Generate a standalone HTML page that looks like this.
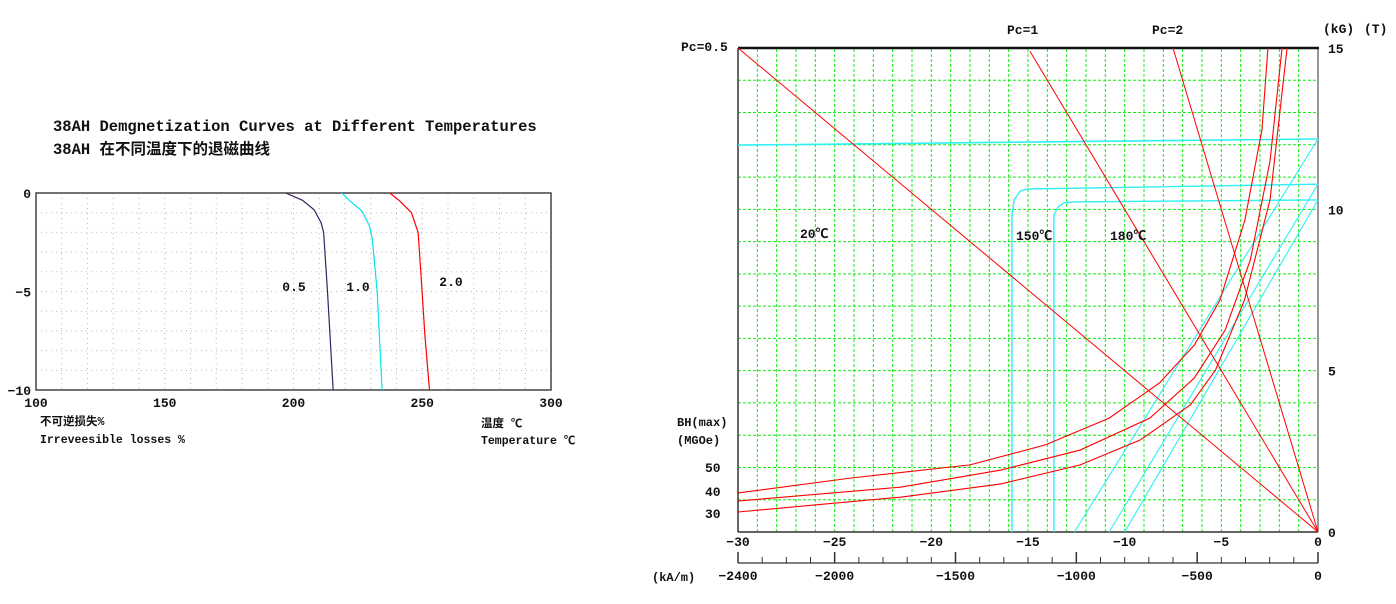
<!DOCTYPE html>
<html><head><meta charset="utf-8"><style>
html,body{margin:0;padding:0;background:#fff;}
svg{display:block;}
text{font-family:"Liberation Mono","Noto Sans CJK SC",monospace;font-weight:bold;fill:#111;}
</style></head><body>
<svg id="svg" width="1396" height="604" viewBox="0 0 1396 604">
<g id="left"></g>
<g id="right"></g>
<text x="53" y="131" font-size="15.5">38AH Demgnetization Curves at Different Temperatures</text>
<text x="53" y="154" font-size="15.5">38AH 在不同温度下的退磁曲线</text>
<text x="40" y="425" font-size="11.5">不可逆损失%</text>
<text x="40" y="443" font-size="11.5">Irreveesible losses %</text>
<text x="481" y="427" font-size="11.5">温度 ℃</text>
<text x="481" y="444" font-size="11.5">Temperature ℃</text>
<text x="681" y="51" font-size="13">Pc=0.5</text>
<text x="1007" y="34" font-size="13">Pc=1</text>
<text x="1152" y="34" font-size="13">Pc=2</text>
<text x="1323" y="33" font-size="13">(kG)</text>
<text x="1364" y="33" font-size="13">(T)</text>
<text x="800" y="238" font-size="13">20℃</text>
<text x="1016" y="240" font-size="13">150℃</text>
<text x="1110" y="240" font-size="13">180℃</text>
<text x="677" y="426" font-size="12">BH(max)</text>
<text x="677" y="444" font-size="12">(MGOe)</text>
<text x="705" y="472" font-size="13">50</text>
<text x="705" y="496" font-size="13">40</text>
<text x="705" y="518" font-size="13">30</text>
<text x="652" y="581" font-size="12">(kA/m)</text>
</svg>
<script>
// ---- Left chart data ----
const lossXTicks = [100,150,200,250,300];
const lossYTicks = [0,-5,-10];
const lossSeriesNames = ["0.5","1.0","2.0"];
const lossT05 = [197,203.5,208,210.7,211.7,213.2,215.4];
const lossV05 = [0,-0.37,-0.85,-1.5,-2,-5,-10];
const lossT10 = [218.7,222.1,226.6,229.5,230.6,232.5,234.4];
const lossV10 = [0,-0.42,-0.92,-1.67,-2.33,-5,-10];
const lossT20 = [237.4,241.4,245.8,248.4,249.6,251,252.8];
const lossV20 = [0,-0.42,-1,-2,-4.33,-7.17,-10];
// ---- Right chart data (H in kOe, B in kG) ----
const hTicks = [-30,-25,-20,-15,-10,-5,0];
const bTicks = [0,5,10,15];
const kamTicks = [-2400,-2000,-1500,-1000,-500,0];
const pcSlopes = [0.5,1,2];
const pcTopH = [-30,-14.9,-7.5];
const j20H = [-30,0]; const j20B = [11.99,12.18];
const j150H = [-15.83,-15.83,-15.72,-15.4,-15.0,0]; const j150B = [0,9.8,10.29,10.57,10.63,10.78];
const j180H = [-13.66,-13.66,-13.45,-13.14,-12.72,0]; const j180B = [0,9.82,10.07,10.2,10.23,10.29];
const n20H = [0,-12.6]; const n20B = [12.18,0];
const n150H = [0,-10.8]; const n150B = [10.78,0];
const n180H = [0,-10.0]; const n180B = [10.29,0];
const bhAH = [-30,-24.2,-18,-14.1,-10.8,-8.2,-6.4,-5.07,-3.78,-2.9,-2.59];
const bhAB = [1.21,1.67,2.08,2.7,3.53,4.62,5.79,7.19,9.67,12.46,15];
const bhBH = [-30,-21.6,-16.4,-12.3,-8.7,-6.4,-4.8,-3.5,-2.48,-1.86];
const bhBB = [0.96,1.39,1.92,2.54,3.53,4.77,6.26,8.43,11.5,15];
const bhCH = [-30,-21.6,-16.4,-12.3,-9.2,-6.6,-5.3,-3.8,-2.48,-1.6];
const bhCB = [0.62,1.08,1.49,2.08,2.85,3.94,5.02,7.19,10.3,15];

const NS="http://www.w3.org/2000/svg";
function mk(parent,tag,attrs,name){const e=document.createElementNS(NS,tag);for(const k in attrs)e.setAttribute(k,attrs[k]);


parent.appendChild(e);return e;}
function txt(parent,x,y,s,size,anchor,name){const t=mk(parent,'text',{x:x,y:y,'font-size':size,'text-anchor':anchor},name);t.textContent=s;return t;}

// Left
const L=document.getElementById('left');
const lx=v=>36+(v-100)*(551-36)/200, ly=v=>193+(-v)*(390-193)/10;
for(let t=110;t<300;t+=10) mk(L,'line',{x1:lx(t),x2:lx(t),y1:ly(0),y2:ly(-10),stroke:'#bbb','stroke-dasharray':'1,4'},'left-grid-v');
for(let v=-1;v>-10;v--) mk(L,'line',{x1:lx(100),x2:lx(300),y1:ly(v),y2:ly(v),stroke:'#bbb','stroke-dasharray':'1,4'},'left-grid-h');
mk(L,'rect',{x:lx(100),y:ly(0),width:lx(300)-lx(100),height:ly(-10)-ly(0),fill:'none',stroke:'#444','stroke-width':1.5},'left-plot-frame');
lossXTicks.forEach(t=>txt(L,lx(t),407,String(t),13,'middle','left-x-tick-label'));
lossYTicks.forEach(v=>txt(L,31,ly(v)+5,String(v).replace('-','−'),13,'end','left-y-tick-label'));
const ls=[[lossT05,lossV05,'#3a1f66'],[lossT10,lossV10,'#00e5ee'],[lossT20,lossV20,'#f00']];
ls.forEach((s,i)=>{mk(L,'polyline',{points:s[0].map((t,j)=>lx(t)+','+ly(s[1][j])).join(' '),fill:'none',stroke:s[2],'stroke-width':1.2},'loss-curve-'+lossSeriesNames[i]);});
txt(L,294,291,'0.5',13,'middle','loss-label-0-5');
txt(L,358,291,'1.0',13,'middle','loss-label-1-0');
txt(L,451,286,'2.0',13,'middle','loss-label-2-0');

// Right
const R=document.getElementById('right');
const X0=738,X1=1318,Y0=532,Y1=48;
const hx=h=>X1+(h)*(X1-X0)/30, by=b=>Y0-b*(Y0-Y1)/15;
for(let h=-29;h<0;h++) mk(R,'line',{x1:hx(h),x2:hx(h),y1:Y0,y2:Y1,stroke:'#1e1','stroke-dasharray':'3,2'},'grid-v');
for(let b=1;b<15;b++) mk(R,'line',{x1:X0,x2:X1,y1:by(b),y2:by(b),stroke:'#1e1','stroke-dasharray':'3,2'},'grid-h');
mk(R,'line',{x1:X0,x2:X0,y1:Y1,y2:Y0,stroke:'#333','stroke-width':1.5},'left-axis');
mk(R,'line',{x1:X0,x2:X1,y1:Y0,y2:Y0,stroke:'#333','stroke-width':1.5},'x-axis');
mk(R,'line',{x1:X1,x2:X1,y1:Y1,y2:Y0,stroke:'#777','stroke-width':1.5},'right-axis');
mk(R,'line',{x1:X0,x2:X1+1,y1:Y1,y2:Y1,stroke:'#111','stroke-width':2.5},'top-border');
hTicks.forEach(h=>txt(R,hx(h),546,String(h).replace('-','−'),13,'middle','x-tick-label-koe'));
bTicks.forEach(b=>txt(R,1328,by(b)+5,String(b),13,'start','y-tick-label-kg'));
// kA/m axis
const kx=k=>X1+k*(X1-X0)/2400;
mk(R,'line',{x1:X0,x2:X1,y1:563,y2:563,stroke:'#333','stroke-width':1.2},'ka-m-axis');
for(let k=-2400;k<=0;k+=100){const major=k%500===0||k===-2400;mk(R,'line',{x1:kx(k),x2:kx(k),y1:major?552:557,y2:563,stroke:'#333','stroke-width':major?1.5:1},'ka-m-tick');}
kamTicks.forEach(k=>txt(R,kx(k),580,String(k).replace('-','−'),13,'middle','ka-m-tick-label'));
function series(H,B,color,w,name){mk(R,'polyline',{points:H.map((h,j)=>hx(h)+','+by(B[j])).join(' '),fill:'none',stroke:color,'stroke-width':w},name);}
const cy='#2ef0f5';
series(j20H,j20B,cy,1.6,'intrinsic-curve-20c');
series(j150H,j150B,cy,1.4,'intrinsic-curve-150c');
series(j180H,j180B,cy,1.4,'intrinsic-curve-180c');
series(n20H,n20B,cy,1.1,'normal-curve-20c');
series(n150H,n150B,cy,1.1,'normal-curve-150c');
series(n180H,n180B,cy,1.1,'normal-curve-180c');
pcSlopes.forEach((p,i)=>series([0,pcTopH[i]],[0,-pcTopH[i]*p],'#f00',1,'pc-line-'+p));
series(bhAH,bhAB,'#f00',1.1,'bh-curve-50');
series(bhBH,bhBB,'#f00',1.1,'bh-curve-40');
series(bhCH,bhCB,'#f00',1.1,'bh-curve-30');
</script>
</body></html>
